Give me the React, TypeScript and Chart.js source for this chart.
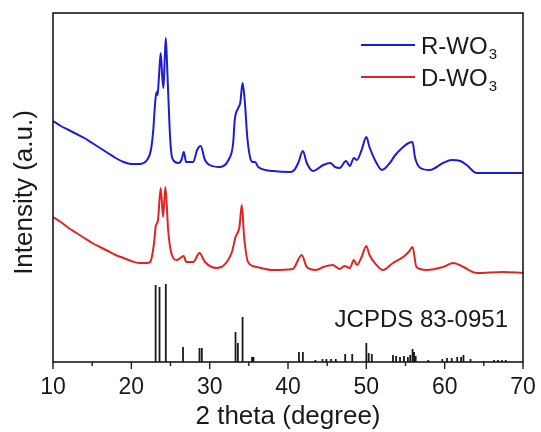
import React, { useEffect, useRef } from "react";
import { Chart, registerables } from "chart.js";

Chart.register(...registerables);

// 2θ positions and intensities (arbitrary units)
const rTheta = [10.0, 11.0, 12.0, 13.0, 14.0, 15.0, 16.0, 17.0, 18.0, 19.0, 20.0, 21.0, 22.0, 22.5, 22.8, 23.0, 23.2, 23.35, 23.5, 23.75, 23.95, 24.1, 24.25, 24.4, 24.6, 24.9, 25.1, 25.35, 26.0, 26.4, 26.7, 27.0, 27.9, 28.4, 28.85, 29.4, 30.0, 31.3, 32.4, 33.0, 33.2, 33.65, 33.9, 34.2, 34.5, 34.8, 35.15, 35.5, 35.8, 36.2, 38.1, 40.3, 40.8, 41.3, 41.9, 42.4, 43.2, 44.5, 45.4, 46.0, 46.6, 47.4, 47.9, 48.4, 48.8, 49.4, 50.0, 50.4, 51.1, 52.0, 53.0, 53.7, 54.7, 55.4, 55.9, 56.2, 56.9, 58.1, 59.8, 60.9, 62.0, 62.8, 64.1, 67.5, 70.0];
const rIntensity = [241, 236, 232, 228, 224, 219, 214, 209, 204, 200, 198, 198, 202, 212, 232, 255, 270, 267, 282, 309, 285, 274, 300, 324, 290, 232, 209, 202, 199, 202, 210, 200, 200, 212, 216, 202, 197, 195, 202, 219, 242, 254, 259, 279, 259, 225, 205, 200, 200, 195, 191, 190, 192, 199, 211, 199, 191, 197, 199, 195, 194, 201, 196, 204, 202, 212, 225, 215, 202, 192, 199, 207, 215, 219, 220, 205, 194, 192, 199, 202, 201, 197, 189, 189, 189];

const dTheta = [10.0, 11.0, 12.0, 13.0, 14.0, 15.0, 16.0, 17.0, 18.0, 19.0, 20.0, 21.0, 22.0, 22.4, 22.9, 23.1, 23.4, 23.75, 24.05, 24.35, 24.7, 25.1, 25.8, 26.7, 27.0, 27.9, 28.7, 29.4, 30.9, 32.8, 33.3, 33.8, 34.1, 34.4, 34.9, 36.0, 38.1, 40.6, 41.75, 42.4, 43.6, 44.5, 45.7, 46.6, 47.2, 47.9, 48.4, 48.8, 49.4, 50.0, 50.4, 51.3, 52.1, 53.4, 54.7, 55.4, 55.9, 56.4, 57.7, 59.8, 61.1, 62.4, 64.1, 67.5, 70.0];
const dIntensity = [145, 140, 134, 129, 124, 119, 115, 111, 107, 104, 101, 99, 99, 100, 119, 135, 142, 174, 145, 175, 132, 109, 102, 106, 100, 100, 109, 100, 94, 109, 125, 135, 157, 125, 100, 95, 92, 93, 107, 95, 92, 95, 97, 93, 96, 94, 102, 97, 105, 116, 107, 97, 92, 99, 105, 110, 115, 95, 92, 95, 99, 95, 89, 90, 89];

const refTheta = [23.1, 23.6, 24.4, 26.6, 28.7, 29.0, 33.3, 33.6, 34.2, 35.4, 35.6, 41.4, 41.9, 43.5, 44.4, 44.9, 45.5, 46.1, 47.3, 48.2, 50.0, 50.3, 50.7, 53.4, 53.8, 54.3, 54.8, 55.3, 55.6, 55.9, 56.1, 56.3, 57.9, 59.7, 60.3, 60.9, 61.6, 62.1, 62.4, 63.3, 65.0, 66.3, 66.8, 67.3, 67.8];
const refIntensity = [77, 75, 78, 15, 14, 14, 30, 19, 45, 5, 5, 10, 10, 2, 3, 3, 3, 3, 8, 8, 19, 9, 8, 7, 6, 5, 6, 5, 7, 13, 10, 6, 2, 3, 4, 4, 5, 5, 7, 3, 1, 2, 2, 2, 2];

const xTicks = [10, 20, 30, 40, 50, 60, 70];
const minorTicks = [15, 25, 35, 45, 55, 65];

const seriesLabels = ["R-WO", "D-WO"];
const seriesColors = ["#1c1cd6", "#e02424"];
const refLabel = "JCPDS 83-0951";
const yTitle = "Intensity (a.u.)";
const xTitle = "2 theta (degree)";

const FONT = "'Liberation Sans', Arial, sans-serif";

export default function App() {
  const ref = useRef<HTMLCanvasElement | null>(null);

  useEffect(() => {
    document.body.style.margin = "0";
    const canvas = ref.current;
    if (!canvas) return;

    const sticks: { x: number; y: number | null }[] = [];
    refTheta.forEach((t, i) => {
      sticks.push({ x: t, y: 0 });
      sticks.push({ x: t, y: refIntensity[i] });
      sticks.push({ x: t, y: null });
    });

    const decor = {
      id: "decor",
      afterDraw(chart: any) {
        const { ctx, chartArea } = chart;
        const xs = chart.scales.x;
        ctx.save();
        // frame
        ctx.strokeStyle = "#1a1a1a";
        ctx.lineWidth = 1.6;
        ctx.strokeRect(chartArea.left, chartArea.top, chartArea.right - chartArea.left, chartArea.bottom - chartArea.top);
        // outward ticks
        ctx.lineWidth = 1.4;
        xTicks.forEach((v) => {
          const px = xs.getPixelForValue(v);
          ctx.beginPath();
          ctx.moveTo(px, chartArea.bottom);
          ctx.lineTo(px, chartArea.bottom + 7);
          ctx.stroke();
        });
        minorTicks.forEach((v) => {
          const px = xs.getPixelForValue(v);
          ctx.beginPath();
          ctx.moveTo(px, chartArea.bottom);
          ctx.lineTo(px, chartArea.bottom + 4);
          ctx.stroke();
        });
        // y title
        ctx.fillStyle = "#1a1a1a";
        ctx.font = `26px ${FONT}`;
        ctx.textAlign = "center";
        ctx.textBaseline = "middle";
        ctx.translate(25, (chartArea.top + chartArea.bottom) / 2 + 5);
        ctx.rotate(-Math.PI / 2);
        ctx.fillText(yTitle, 0, 0);
        ctx.setTransform(1, 0, 0, 1, 0, 0);
        // legend
        const lx0 = chartArea.right - 162;
        const lx1 = chartArea.right - 108;
        const ly = [chartArea.top + 32, chartArea.top + 64];
        seriesLabels.forEach((lab, i) => {
          ctx.strokeStyle = seriesColors[i];
          ctx.lineWidth = 2;
          ctx.beginPath();
          ctx.moveTo(lx0, ly[i]);
          ctx.lineTo(lx1, ly[i]);
          ctx.stroke();
          ctx.fillStyle = "#1a1a1a";
          ctx.font = `24px ${FONT}`;
          ctx.textBaseline = "alphabetic";
          ctx.textAlign = "left";
          const tx = lx1 + 6;
          const base = ly[i] + 9;
          ctx.fillText(lab, tx, base);
          const w = ctx.measureText(lab).width;
          ctx.font = `15px ${FONT}`;
          ctx.fillText("3", tx + w + 1, base + 5);
        });
        // reference label
        ctx.fillStyle = "#1a1a1a";
        ctx.font = `24px ${FONT}`;
        ctx.textAlign = "right";
        ctx.textBaseline = "alphabetic";
        ctx.fillText(refLabel, chartArea.right - 15, chartArea.top + 314);
        ctx.restore();
      },
    };

    const chart = new Chart(canvas, {
      type: "line",
      data: {
        datasets: [
          {
            label: seriesLabels[0],
            data: rTheta.map((t, i) => ({ x: t, y: rIntensity[i] })),
            borderColor: seriesColors[0],
            borderWidth: 2,
            pointRadius: 0,
            cubicInterpolationMode: "monotone",
          },
          {
            label: seriesLabels[1],
            data: dTheta.map((t, i) => ({ x: t, y: dIntensity[i] })),
            borderColor: seriesColors[1],
            borderWidth: 2,
            pointRadius: 0,
            cubicInterpolationMode: "monotone",
          },
          {
            label: refLabel,
            data: sticks,
            borderColor: "#1a1a1a",
            borderWidth: 1.8,
            pointRadius: 0,
            spanGaps: false,
            tension: 0,
          },
        ],
      },
      options: {
        responsive: false,
        animation: false,
        layout: { padding: { top: 13, right: 18, left: 0, bottom: 0 } },
        plugins: { legend: { display: false }, tooltip: { enabled: false } },
        scales: {
          x: {
            type: "linear",
            min: 10,
            max: 70,
            grid: { display: false, drawTicks: false },
            border: { display: false },
            ticks: { stepSize: 10, color: "#1a1a1a", font: { size: 23, family: FONT }, padding: 12, maxRotation: 0 },
            title: { display: true, text: xTitle, color: "#1a1a1a", font: { size: 26, family: FONT }, padding: { top: 0, bottom: 0 } },
            afterFit: (s: any) => { s.height = 70; s.paddingLeft = 0; s.paddingRight = 0; },
          },
          y: {
            min: 0,
            max: 349,
            grid: { display: false, drawTicks: false },
            border: { display: false },
            ticks: { display: false },
            title: { display: false },
            afterFit: (s: any) => { s.width = 53; },
          },
        },
      },
      plugins: [decor],
    } as any);

    return () => chart.destroy();
  }, []);

  return (
    <div style={{ width: 541, height: 432 }}>
      <canvas ref={ref} width={541} height={432} />
    </div>
  );
}
